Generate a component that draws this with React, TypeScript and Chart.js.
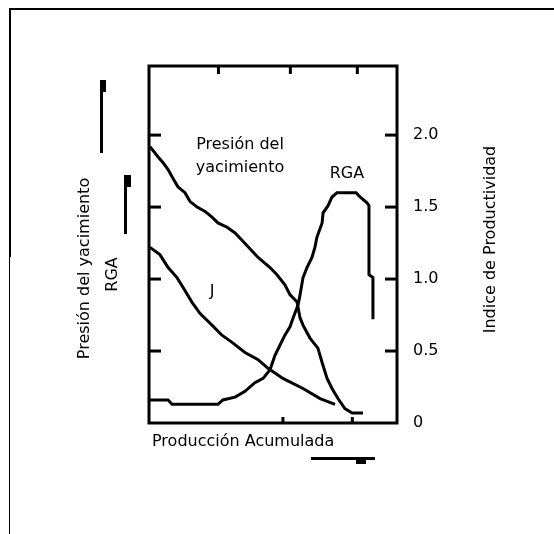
import React, { useEffect, useRef } from "react";
import { Chart, registerables } from "chart.js";

Chart.register(...registerables);

// Producción acumulada (arbitrary units 0..10) and values on the 0..2.48 scale
const pressureX = [0.04, 0.36, 0.56, 0.77, 0.93, 1.17, 1.45, 1.65, 1.94, 2.26, 2.54, 2.78, 3.15, 3.47, 3.75, 4.4, 4.88, 5.16, 5.48, 5.69, 5.97, 6.09, 6.21, 6.49, 6.81, 6.98, 7.18, 7.38, 7.62, 7.9, 8.19, 8.63];
const pressureY = [1.92, 1.85, 1.81, 1.76, 1.71, 1.64, 1.6, 1.54, 1.5, 1.47, 1.43, 1.39, 1.36, 1.32, 1.27, 1.15, 1.08, 1.03, 0.96, 0.89, 0.84, 0.73, 0.68, 0.59, 0.52, 0.42, 0.31, 0.24, 0.17, 0.1, 0.07, 0.07];

const jX = [0.04, 0.44, 0.77, 1.13, 1.45, 1.73, 2.06, 2.54, 2.94, 3.35, 3.87, 4.4, 4.8, 5.4, 6.21, 6.9, 7.5];
const jY = [1.22, 1.17, 1.08, 1.01, 0.92, 0.84, 0.76, 0.68, 0.61, 0.56, 0.49, 0.44, 0.38, 0.31, 0.24, 0.17, 0.13];

const rgaX = [0.04, 0.77, 0.93, 2.78, 2.98, 3.47, 3.87, 4.27, 4.6, 4.88, 5.08, 5.28, 5.48, 5.69, 5.81, 6.01, 6.09, 6.21, 6.37, 6.57, 6.69, 6.77, 6.98, 7.02, 7.22, 7.38, 7.58, 8.35, 8.51, 8.79, 8.87, 8.87, 9.03, 9.03];
const rgaY = [0.16, 0.16, 0.13, 0.13, 0.16, 0.18, 0.22, 0.28, 0.31, 0.37, 0.47, 0.54, 0.61, 0.67, 0.73, 0.82, 0.89, 1.01, 1.08, 1.15, 1.22, 1.29, 1.39, 1.46, 1.51, 1.57, 1.6, 1.6, 1.57, 1.53, 1.51, 1.03, 1.01, 0.72];

const yTickValues = [0, 0.5, 1.0, 1.5, 2.0];
const yTickLabels = ["0", "0.5", "1.0", "1.5", "2.0"];
const topTickX = [2.8, 5.7, 8.4];
const bottomTickX = [5.4, 8.2];

const leftTitleLines = ["Presión del yacimiento", "RGA"];
const rightTitle = "Indice de Productividad";
const bottomTitle = "Producción Acumulada";
const curveLabels = [
  { text: "Presión del", x: 3.67, y: 1.93 },
  { text: "yacimiento", x: 3.67, y: 1.77 },
  { text: "RGA", x: 7.98, y: 1.73 },
  { text: "J", x: 2.54, y: 0.91 },
];

const FONT = '16px "DejaVu Sans"';

const toPoints = (xs: number[], ys: number[]) => xs.map((x, i) => ({ x, y: ys[i] }));

const decor = {
  id: "decor",
  afterDatasetsDraw(chart: any) {
    const { ctx, chartArea: a, scales } = chart;
    const xs = scales.x;
    const ys = scales.y;
    const seg = (x1: number, y1: number, x2: number, y2: number, w: number) => {
      ctx.lineWidth = w;
      ctx.beginPath();
      ctx.moveTo(x1, y1);
      ctx.lineTo(x2, y2);
      ctx.stroke();
    };
    ctx.save();
    ctx.strokeStyle = "#000";
    ctx.fillStyle = "#000";
    ctx.lineCap = "butt";

    // outer frame
    seg(10, 9, 554, 9, 2);
    seg(10, 8, 10, 257, 2);
    seg(9.5, 257, 9.5, 534, 1);

    // plot box
    ctx.lineWidth = 3;
    ctx.strokeRect(a.left, a.top, a.right - a.left, a.bottom - a.top);

    // ticks (inward)
    yTickValues.forEach((v) => {
      if (v === 0) return;
      const py = ys.getPixelForValue(v);
      seg(a.left, py, a.left + 12, py, 3);
      seg(a.right - 12, py, a.right, py, 3);
    });
    topTickX.forEach((v) => {
      const px = xs.getPixelForValue(v);
      seg(px, a.top, px, a.top + 8, 3);
    });
    bottomTickX.forEach((v) => {
      const px = xs.getPixelForValue(v);
      seg(px, a.bottom, px, a.bottom - 6, 3);
    });

    ctx.font = FONT;
    ctx.textBaseline = "middle";

    // right tick labels
    ctx.textAlign = "left";
    yTickValues.forEach((v, i) => {
      ctx.fillText(yTickLabels[i], a.right + 16, ys.getPixelForValue(v));
    });

    // curve labels
    ctx.textAlign = "center";
    curveLabels.forEach((l) => {
      ctx.fillText(l.text, xs.getPixelForValue(l.x), ys.getPixelForValue(l.y));
    });

    // bottom title
    ctx.textAlign = "left";
    ctx.fillText(bottomTitle, a.left + 3, a.bottom + 19);

    // left title (two lines, rotated)
    const cyL = (a.top + a.bottom) / 2 + 24;
    ctx.textAlign = "center";
    leftTitleLines.forEach((t, i) => {
      ctx.save();
      ctx.translate(a.left - 64 + i * 28, cyL + i * 6);
      ctx.rotate(-Math.PI / 2);
      ctx.fillText(t, 0, 0);
      ctx.restore();
    });

    // right title
    ctx.save();
    ctx.translate(a.right + 94, (a.top + a.bottom) / 2 - 5);
    ctx.rotate(-Math.PI / 2);
    ctx.fillText(rightTitle, 0, 0);
    ctx.restore();

    // arrow marks
    const bar = (x: number, y: number, w: number, h: number) => ctx.fillRect(x, y, w, h);
    bar(a.left - 49, a.top + 14, 3, 73);
    bar(a.left - 49, a.top + 14, 6, 12);
    bar(a.left - 25, a.top + 109, 3, 59);
    bar(a.left - 25, a.top + 109, 7, 12);
    bar(a.left + 162, a.bottom + 34, 64, 3);
    bar(a.left + 207, a.bottom + 34, 10, 7);

    ctx.restore();
  },
};

export default function App() {
  const ref = useRef<HTMLCanvasElement | null>(null);
  useEffect(() => {
    if (!ref.current) return;
    const line = (xs: number[], ys: number[]) => ({
      data: toPoints(xs, ys),
      borderColor: "#000",
      borderWidth: 3,
      pointRadius: 0,
      tension: 0,
      fill: false,
      clip: false as any,
    });
    const chart = new Chart(ref.current, {
      type: "line",
      data: {
        datasets: [line(pressureX, pressureY), line(jX, jY), line(rgaX, rgaY)],
      },
      options: {
        responsive: false,
        animation: false,
        layout: { padding: { left: 149, right: 157, top: 66, bottom: 111 } },
        plugins: { legend: { display: false }, tooltip: { enabled: false } },
        scales: {
          x: { type: "linear", min: 0, max: 10, display: false },
          y: { type: "linear", min: 0, max: 2.48, display: false },
        },
      },
      plugins: [decor],
    });
    return () => chart.destroy();
  }, []);
  return (
    <canvas
      ref={ref}
      width={554}
      height={534}
      style={{ position: "fixed", left: 0, top: 0, width: 554, height: 534, background: "#fff" }}
    />
  );
}
